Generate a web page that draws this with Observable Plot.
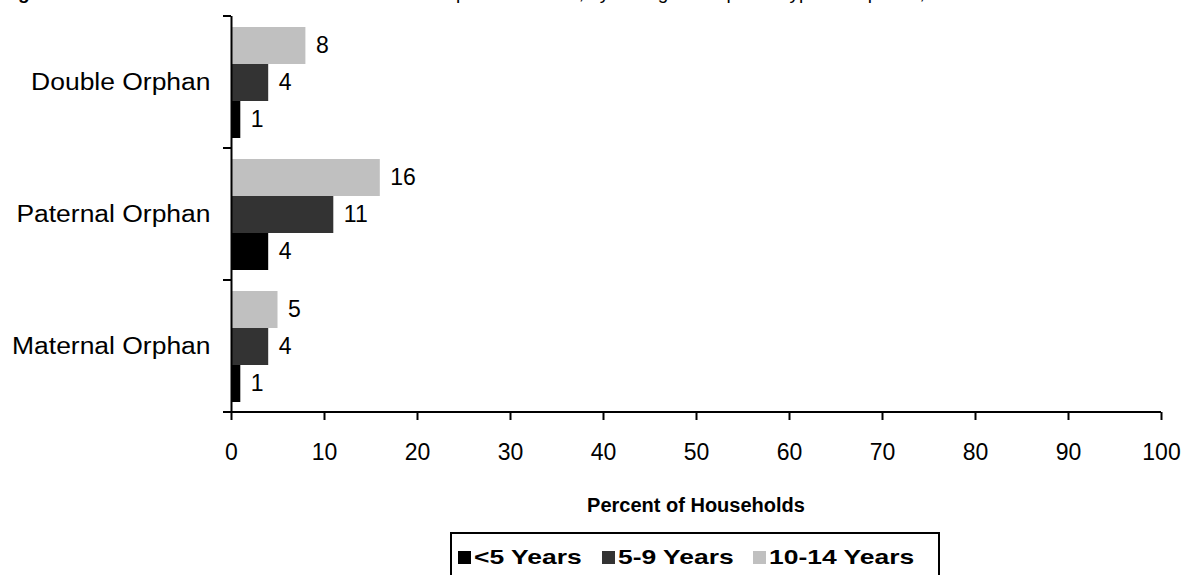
<!DOCTYPE html>
<html>
<head>
<meta charset="utf-8">
<script src="https://cdn.jsdelivr.net/npm/d3@7"></script>
<script src="https://cdn.jsdelivr.net/npm/@observablehq/plot@0.6"></script>
<style>
  html, body { margin: 0; padding: 0; overflow: hidden; background: #fff; }
  body { width: 1183px; height: 575px; position: relative; font-family: Arial, "Liberation Sans", sans-serif; }
  #title { position: absolute; left: 0; top: 0; width: 1183px; height: 6px; overflow: hidden; z-index: 2; }
  #title span.inner { position: absolute; left: 1px; top: -17px; font-size: 19px; line-height: 20px; white-space: nowrap; color: #000; }
  #chart { position: absolute; left: 0; top: 0; }
  #xlabel { position: absolute; left: 231px; width: 930px; top: 493px; text-align: center; font-weight: bold; font-size: 20px; line-height: 24px; color: #000; }
  #legend { position: absolute; left: 450px; top: 532px; height: 70px; border: 2px solid #000; padding: 0 24px 0 6px; display: flex; align-items: flex-start; font-weight: bold; font-size: 21px; color: #000; }
  #legend .item { display: flex; align-items: center; margin-top: 11px; margin-right: 20px; }
  #legend .item:last-child { margin-right: 0; }
  #legend .sw { width: 13px; height: 13px; margin-right: 3px; display: inline-block; }
  #legend .lbl { display: inline-block; transform-origin: left center; white-space: nowrap; }
</style>
</head>
<body>
<div id="title"><span class="inner"><b>Figure 4:</b> Percent of Households with One or More Orphans Present, by the Age Group and Type of Orphans, All Households</span></div>
<div id="chart"></div>
<div id="xlabel"></div>
<div id="legend"></div>
<script>
// ---- data ----
const categories = ["Double Orphan", "Paternal Orphan", "Maternal Orphan"];
const ageGroups = ["<5 Years", "5-9 Years", "10-14 Years"];
const under5 = [1, 4, 1];
const age5to9 = [4, 11, 4];
const age10to14 = [8, 16, 5];
const xTicks = [0, 10, 20, 30, 40, 50, 60, 70, 80, 90, 100];
const xLabel = "Percent of Households";
const colors = ["#000000", "#333333", "#c0c0c0"];

const series = [under5, age5to9, age10to14];
const data = categories.flatMap((c, i) =>
  ageGroups.map((g, j) => ({category: c, age: g, value: series[j][i]}))
);

const plot = Plot.plot({
  width: 1183,
  height: 475,
  marginTop: 16,
  marginBottom: 63,
  marginLeft: 231,
  marginRight: 22,
  style: {fontFamily: "Arial, 'Liberation Sans', sans-serif", background: "white", color: "#000"},
  x: {domain: [0, 100], ticks: xTicks, label: null},
  y: {domain: [...ageGroups].reverse(), paddingInner: 0, paddingOuter: 0.24, axis: null},
  fy: {domain: categories, padding: 0, label: null},
  color: {domain: ageGroups, range: colors},
  marks: [
    Plot.barX(data, {x: "value", y: "age", fy: "category", fill: "age"}),
    Plot.text(data, {x: "value", y: "age", fy: "category", text: d => String(d.value),
      textAnchor: "start", dx: 10, fontSize: 23, fill: "#000"}),
    Plot.ruleX([0], {stroke: "#000", strokeWidth: 2}),
    Plot.axisX({ticks: xTicks, tickSize: 8, tickPadding: 23, fontSize: 23, strokeWidth: 2,
      label: null, tickFormat: d => String(d)}),
    Plot.axisFy({anchor: "left", tickSize: 0, tickPadding: 21, fontSize: 23, label: null,
      ariaLabel: "fy-axis"})
  ]
});
document.getElementById("chart").appendChild(plot);

// axis lines and band-boundary ticks from the plot's own scales
const xs = plot.scale("x");
const fys = plot.scale("fy");
const svg = d3.select(plot);
const x0 = xs.apply(0), x1 = xs.apply(100);
const bottom = fys.apply(categories[categories.length - 1]) + fys.bandwidth;
svg.append("line").attr("x1", x0 - 8).attr("x2", x1).attr("y1", bottom).attr("y2", bottom)
  .attr("stroke", "#000").attr("stroke-width", 2);
const bounds = categories.map(c => fys.apply(c)).concat([bottom]);
bounds.forEach(b => {
  svg.append("line").attr("x1", x0 - 8).attr("x2", x0).attr("y1", b).attr("y2", b)
    .attr("stroke", "#000").attr("stroke-width", 2);
});

// widen category labels slightly (the reference's labels are wider than Arial at this height)
svg.selectAll('g[aria-label="fy-axis"] text, g[aria-label="fy-axis tick label"] text').each(function() {
  const len = this.getComputedTextLength();
  this.setAttribute("textLength", len * 1.15);
  this.setAttribute("lengthAdjust", "spacingAndGlyphs");
});

document.getElementById("xlabel").textContent = xLabel;
const legend = d3.select("#legend");
const stretch = 1.26;
ageGroups.forEach((g, i) => {
  const it = legend.append("div").attr("class", "item");
  it.append("span").attr("class", "sw").style("background", colors[i]);
  const lbl = it.append("span").attr("class", "lbl").text(g);
  const node = lbl.node();
  const w = node.offsetWidth;
  lbl.style("transform", `scaleX(${stretch})`).style("margin-right", `${w * (stretch - 1)}px`);
});
</script>
</body>
</html>
